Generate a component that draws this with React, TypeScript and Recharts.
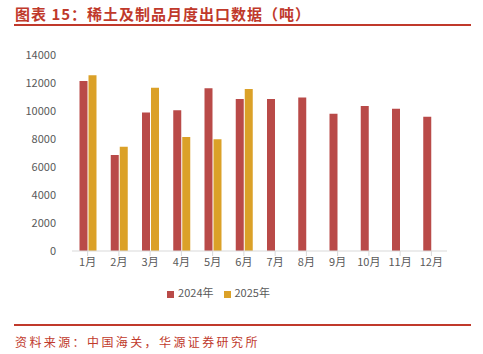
import React from 'react';
import { BarChart, Bar, XAxis, YAxis, Legend } from 'recharts';

const months = ['1月', '2月', '3月', '4月', '5月', '6月', '7月', '8月', '9月', '10月', '11月', '12月'];
const series2024 = [12150, 6850, 9900, 10060, 11620, 10850, 10850, 10970, 9800, 10350, 10160, 9590];
const series2025: (number | null)[] = [12560, 7440, 11660, 8150, 7990, 11570, null, null, null, null, null, null];
const yTicks = [0, 2000, 4000, 6000, 8000, 10000, 12000, 14000];

const data = months.map((m, i) => ({ month: m, y2024: series2024[i], y2025: series2025[i] }));

const RED = '#b94a48';
const GOLD = '#dba128';
const TITLE = '#c0392b';

export default function App() {
  return (
    <div style={{ position: 'absolute', left: 0, top: 0, width: 483, height: 354, background: '#fff', fontFamily: '"Noto Sans CJK SC", sans-serif' }}>
      <div style={{ position: 'absolute', left: 15, top: 3, fontSize: 15, fontWeight: 700, color: TITLE, letterSpacing: 1, whiteSpace: 'nowrap', lineHeight: '22px' }}>
        图表 15：稀土及制品月度出口数据（吨）
      </div>
      <div style={{ position: 'absolute', left: 14, top: 24, width: 457, height: 2, background: TITLE }} />
      <div style={{ position: 'absolute', left: 0, top: 0 }}>
        <BarChart width={483} height={354} data={data} margin={{ top: 55, right: 36, left: 0, bottom: 54 }} barGap={1} barCategoryGap="24%">
          <XAxis dataKey="month" height={33} tick={{ fontSize: 11, fill: '#595959' }} axisLine={{ stroke: '#d9d9d9' }} tickLine={{ stroke: '#d9d9d9' }} tickSize={5} interval={0} />
          <YAxis width={72} domain={[0, 14000]} ticks={yTicks} tick={{ fontSize: 11, fill: '#595959' }} axisLine={false} tickLine={false} tickMargin={10} />
          <Legend verticalAlign="bottom" align="center" iconType="square" iconSize={7} wrapperStyle={{ fontSize: 11, color: '#595959' }} formatter={(v) => <span style={{ color: '#595959' }}>{v}</span>} />
          <Bar dataKey="y2024" name="2024年" fill={RED} isAnimationActive={false} />
          <Bar dataKey="y2025" name="2025年" fill={GOLD} isAnimationActive={false} />
        </BarChart>
      </div>
      <div style={{ position: 'absolute', left: 14, top: 324, width: 457, height: 1.5, background: TITLE }} />
      <div style={{ position: 'absolute', left: 15, top: 333, fontSize: 12, color: TITLE, letterSpacing: 2.4, whiteSpace: 'nowrap', lineHeight: '18px' }}>
        资料来源：中国海关，华源证券研究所
      </div>
    </div>
  );
}
